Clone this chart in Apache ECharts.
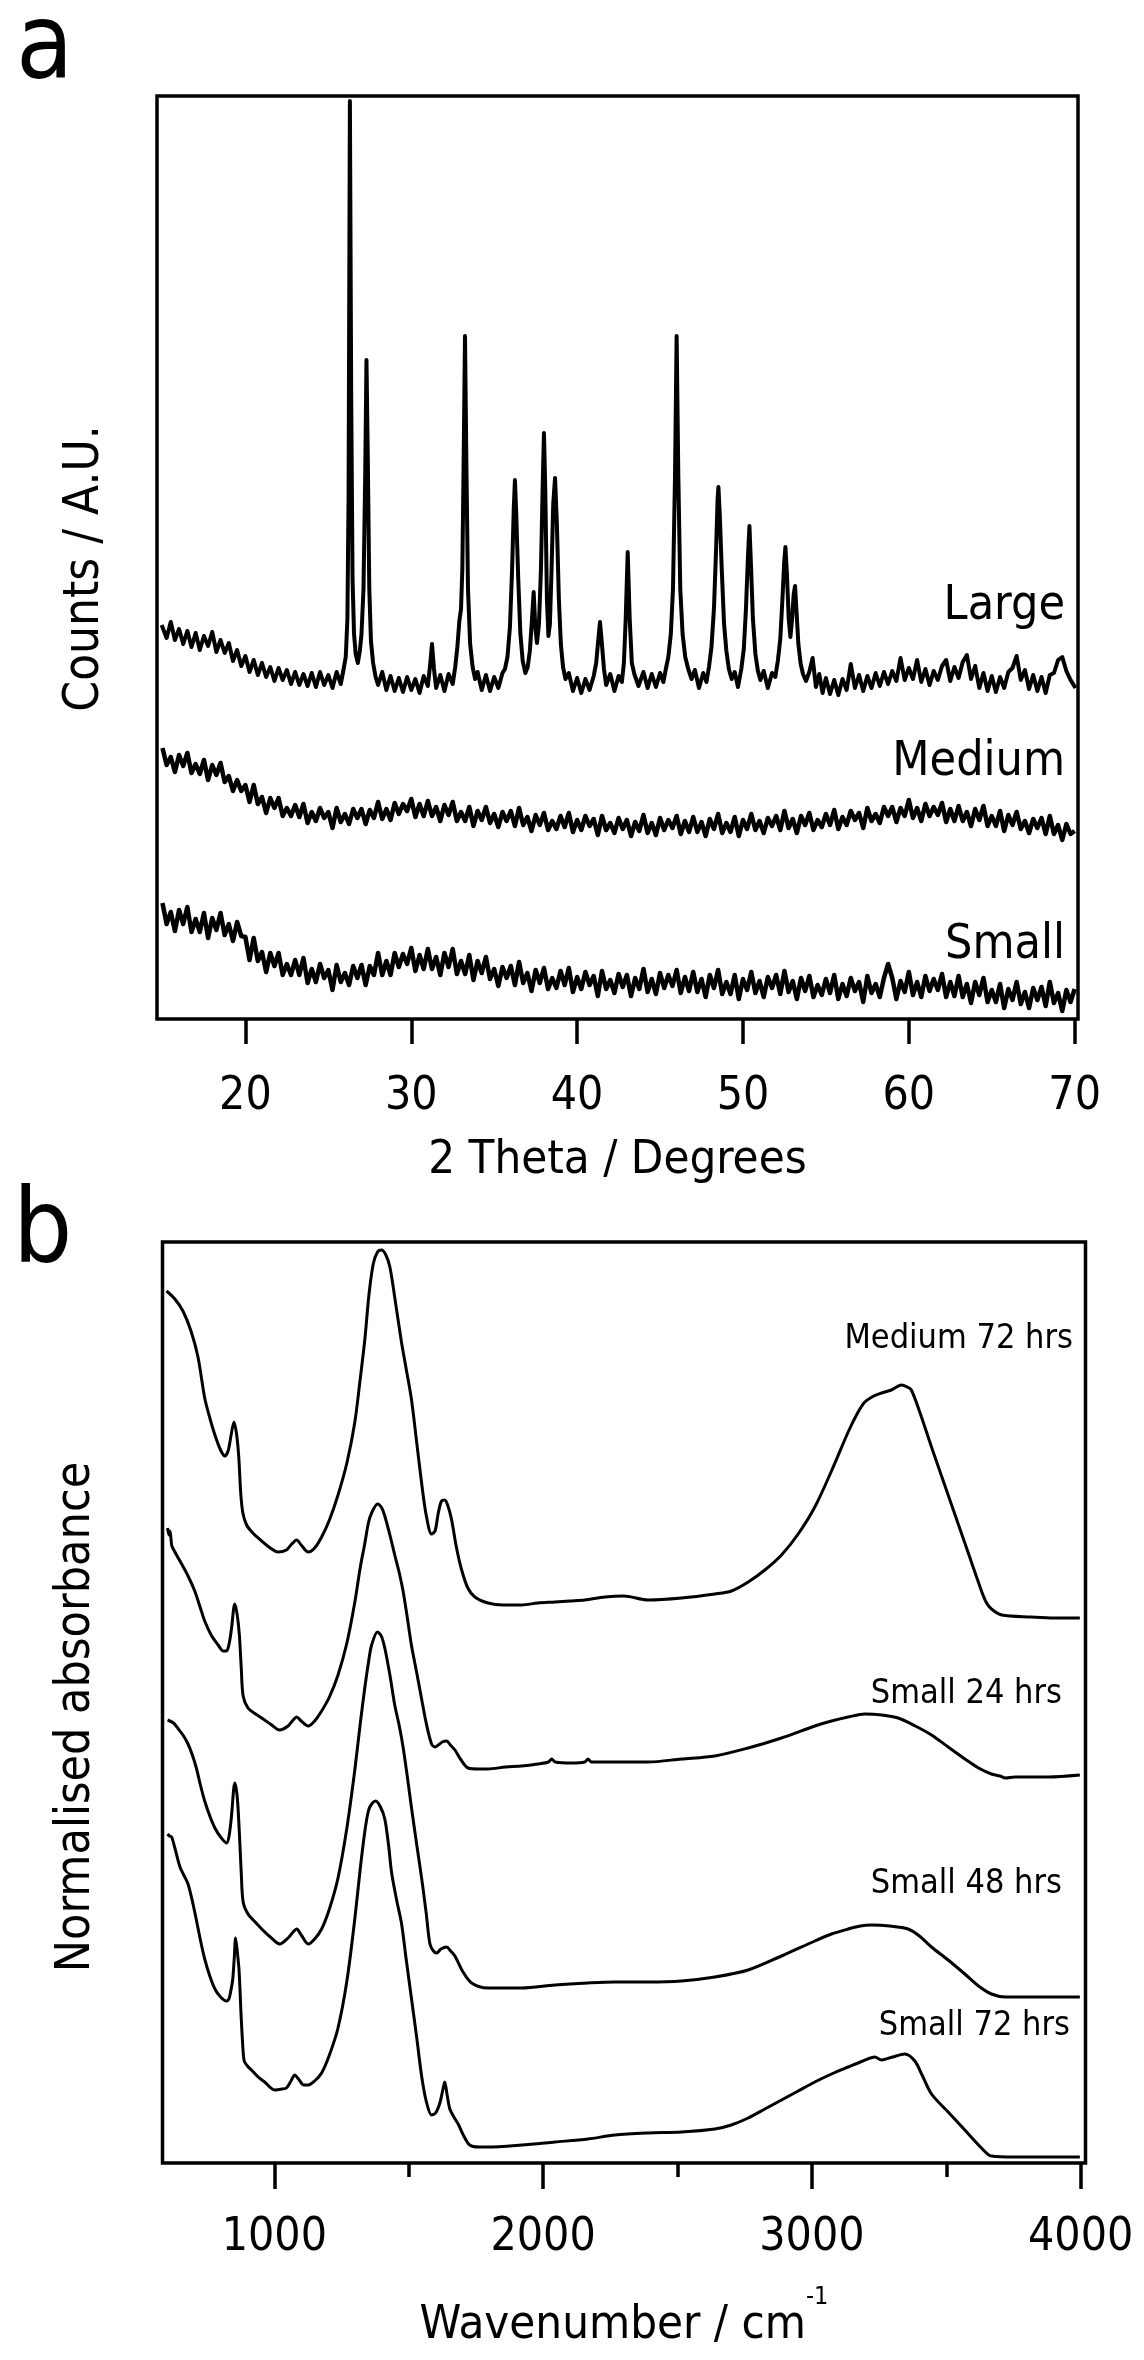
<!DOCTYPE html>
<html>
<head>
<meta charset="utf-8">
<script src="https://cdn.jsdelivr.net/npm/echarts@6/dist/echarts.min.js"></script>
<style>
  html, body { margin: 0; padding: 0; background: #fff; }
  #chart { width: 1144px; height: 2360px; }
</style>
</head>
<body>
<div id="chart"></div>
<script>
// ---- panel a: XRD ----
const xrdTicks = [20, 30, 40, 50, 60, 70];
const xrdNames = ["Large", "Medium", "Small"];

// Large: [2theta, counts]
const xrdLarge = [
  [14.95,394],[15.25,381],[15.5,397],[15.75,379],[16.0,390],[16.25,375],[16.5,388],[16.75,372],
  [17.0,386],[17.25,369],[17.5,383],[17.75,373],[18.0,387],[18.25,367],[18.5,379],[18.75,366],
  [19.0,376],[19.25,358],[19.5,369],[19.75,353],[20.0,363],[20.25,347],[20.5,359],[20.75,344],
  [21.0,356],[21.25,342],[21.5,352],[21.75,338],[22.0,351],[22.25,339],[22.5,349],[22.75,335],
  [23.0,347],[23.25,334],[23.5,345],[23.75,333],[24.0,346],[24.25,332],[24.5,347],[24.75,334],
  [25.0,344],[25.25,331],[25.5,347],[25.75,335],
  [25.9,348],[26.05,362],[26.15,400],[26.22,520],[26.3,918],[26.38,620],[26.46,440],[26.55,385],
  [26.65,365],[26.78,356],[26.9,368],[27.0,385],[27.12,430],[27.22,540],[27.3,659],[27.38,560],
  [27.47,430],[27.57,378],[27.7,356],[27.85,342],
  [28.0,334],[28.25,347],[28.5,329],[28.75,343],[29.0,328],[29.25,341],[29.5,327],[29.75,342],
  [30.0,329],[30.25,340],[30.5,326],[30.75,343],[31.0,333],[31.15,356],[31.25,375],[31.37,350],
  [31.5,331],[31.75,344],[32.0,328],[32.25,345],[32.5,335],
  [32.65,352],[32.78,372],[32.9,398],[33.0,410],[33.08,450],[33.16,560],[33.24,683],[33.32,560],
  [33.42,430],[33.55,375],[33.7,352],[33.85,340],
  [34.0,347],[34.25,329],[34.5,344],[34.75,328],[35.0,342],[35.25,331],[35.5,346],
  [35.65,350],[35.8,362],[35.95,392],[36.08,450],[36.18,510],[36.25,539],[36.33,505],[36.45,440],
  [36.58,385],[36.72,358],[36.88,346],[37.02,352],[37.15,368],[37.28,400],[37.38,427],[37.48,392],
  [37.58,376],[37.7,395],[37.82,450],[37.92,530],[38.0,586],[38.08,530],[38.18,420],[38.27,383],
  [38.36,395],[38.46,450],[38.56,515],[38.67,541],[38.78,495],[38.9,420],[39.02,375],[39.15,352],
  [39.3,340],
  [39.5,346],[39.75,328],[40.0,341],[40.25,326],[40.5,340],[40.75,329],[41.0,343],
  [41.15,356],[41.27,378],[41.38,397],[41.5,374],[41.62,350],
  [41.75,334],[42.0,345],[42.25,328],[42.5,343],[42.7,337],
  [42.82,356],[42.93,400],[43.05,467],[43.17,400],[43.3,356],
  [43.45,345],[43.7,333],[44.0,347],[44.25,331],[44.5,345],[44.75,332],[45.0,346],[45.2,337],
  [45.35,350],[45.5,362],[45.65,385],[45.78,430],[45.9,540],[46.0,683],[46.1,545],[46.22,430],
  [46.36,385],[46.52,362],[46.7,350],[46.9,340],
  [47.1,349],[47.35,331],[47.6,346],[47.8,337],
  [47.95,352],[48.1,372],[48.25,410],[48.38,470],[48.47,520],[48.52,532],[48.6,505],[48.72,450],
  [48.86,395],[49.0,368],[49.15,350],[49.32,340],
  [49.5,347],[49.7,332],
  [49.9,350],[50.05,370],[50.18,410],[50.3,462],[50.39,493],[50.48,455],[50.6,400],[50.75,365],
  [50.9,348],
  [51.05,339],[51.25,348],[51.5,331],[51.75,346],[51.95,342],
  [52.1,358],[52.25,380],[52.38,420],[52.48,455],[52.56,472],[52.65,445],[52.76,400],[52.86,382],
  [52.96,400],[53.06,425],[53.14,433],[53.22,410],[53.34,375],[53.48,355],[53.62,345],[53.8,338],
  [54.0,347],[54.2,361],[54.4,332],[54.6,345],[54.8,326],[55.0,341],[55.25,325],[55.5,339],
  [55.75,324],[56.0,340],[56.25,329],[56.5,355],[56.75,331],[57.0,344],[57.25,328],[57.5,343],
  [57.75,331],[58.0,346],[58.25,333],[58.5,347],[58.75,335],[59.0,348],[59.25,338],[59.5,361],
  [59.75,339],[60.0,351],[60.25,340],[60.5,359],[60.75,337],[61.0,350],[61.25,334],[61.5,348],
  [61.75,339],[62.0,353],[62.25,359],[62.5,338],[62.75,352],[63.0,341],[63.25,357],[63.5,364],
  [63.75,340],[64.0,353],[64.25,331],[64.5,346],[64.75,328],[65.0,343],[65.25,327],[65.5,342],
  [65.75,331],[66.0,347],[66.25,351],[66.5,363],[66.75,339],[67.0,349],[67.25,330],[67.5,344],
  [67.75,328],[68.0,342],[68.25,326],[68.5,344],[68.75,346],[69.0,359],[69.25,362],[69.5,348],
  [69.75,339],[70.05,331]
];

// Medium and Small: counts sampled every 0.25 degrees from 15
const xrdStart = 15;
const xrdStep = 0.25;
const xrdMedium = [
  271, 254, 262, 247, 264, 253, 266, 246, 255, 245, 259, 239, 254, 244, 256, 237,
  243, 228, 239, 228, 234, 217, 234, 215, 222, 206, 221, 211, 221, 203, 211, 203,
  214, 202, 215, 196, 207, 198, 211, 201, 207, 191, 211, 197, 205, 195, 210, 201,
  210, 195, 209, 201, 217, 200, 210, 199, 216, 205, 215, 208, 220, 202, 215, 203,
  218, 203, 212, 198, 214, 204, 217, 198, 207, 198, 212, 193, 208, 199, 212, 196,
  205, 192, 207, 198, 208, 193, 211, 194, 202, 188, 204, 194, 206, 189, 198, 190,
  203, 192, 206, 187, 199, 189, 203, 193, 200, 184, 203, 189, 196, 186, 201, 190,
  199, 183, 197, 188, 204, 186, 196, 184, 201, 189, 199, 191, 203, 185, 198, 187,
  202, 187, 197, 183, 200, 190, 205, 186, 196, 187, 202, 183, 199, 190, 205, 189,
  198, 186, 201, 193, 203, 189, 208, 191, 200, 186, 203, 194, 206, 189, 199, 192,
  205, 194, 209, 190, 202, 194, 208, 199, 206, 191, 211, 198, 205, 196, 212, 203,
  212, 197, 211, 203, 219, 201, 211, 198, 215, 203, 212, 204, 216, 197, 210, 198,
  213, 198, 207, 193, 210, 199, 213, 193, 203, 193, 208, 188, 204, 194, 207, 190,
  198, 186, 200, 191, 201, 185, 203, 185, 194, 179, 195, 185, 188
];
const xrdSmall = [
  116, 95, 107, 88, 109, 95, 112, 87, 100, 87, 106, 81, 101, 89, 106, 84,
  95, 78, 97, 83, 82, 59, 81, 58, 67, 47, 66, 53, 66, 44, 55, 44,
  59, 44, 61, 36, 50, 37, 55, 41, 49, 29, 54, 37, 46, 34, 53, 41,
  54, 34, 53, 44, 66, 44, 58, 44, 66, 52, 65, 55, 71, 48, 64, 50,
  70, 50, 62, 44, 66, 52, 70, 45, 58, 45, 64, 39, 58, 46, 62, 40,
  50, 33, 52, 41, 53, 34, 57, 36, 46, 28, 49, 36, 51, 30, 41, 31,
  48, 34, 51, 27, 42, 30, 47, 34, 43, 23, 48, 30, 39, 26, 45, 32,
  44, 23, 41, 30, 50, 27, 40, 25, 46, 31, 44, 33, 49, 26, 42, 28,
  47, 27, 40, 22, 44, 31, 49, 25, 37, 25, 44, 20, 40, 29, 47, 26,
  38, 22, 42, 31, 44, 25, 48, 27, 38, 20, 41, 28, 43, 22, 34, 24,
  40, 26, 44, 20, 35, 23, 41, 28, 37, 17, 43, 26, 35, 22, 41, 55,
  41, 20, 38, 27, 47, 24, 37, 22, 43, 28, 40, 29, 45, 22, 37, 23,
  43, 22, 35, 16, 37, 24, 41, 17, 29, 17, 35, 11, 30, 19, 37, 15,
  27, 11, 31, 19, 32, 13, 37, 16, 26, 8, 29, 17, 30
];

// ---- panel b: FTIR, [wavenumber, absorbance] ----
const irMajorTicks = [1000, 2000, 3000, 4000];
const irMinorTicks = [1500, 2500, 3500];
const irNames = ["Medium 72 hrs", "Small 24 hrs", "Small 48 hrs", "Small 72 hrs"];

const irMedium72 = [
  [599,872],[630,864],[660,852],[690,832],[716,806],[741,765],[760,745],[779,728],[800,713],
  [816,707],[828,712],[838,726],[850,741],[860,728],[868,705],[875,670],[883,650],[897,638],
  [920,630],[953,622],[985,615],[1014,611],[1045,613],[1065,619],[1083,623],[1100,618],
  [1126,611],[1150,615],[1176,626],[1205,643],[1237,668],[1270,700],[1299,740],[1320,785],
  [1337,824],[1352,868],[1368,899],[1384,911],[1399,913],[1415,908],[1430,896],[1450,862],
  [1473,821],[1490,795],[1510,764],[1530,720],[1548,680],[1565,648],[1585,629],[1598,632],
  [1610,650],[1622,662],[1634,663],[1646,657],[1659,644],[1678,615],[1697,593],[1720,575],
  [1746,566],[1795,560],[1850,558],[1920,558],[1980,560],[2044,561],[2100,562],[2155,563],
  [2230,566],[2300,567],[2391,563],[2515,565],[2639,569],[2701,572],[2763,581],[2825,593],
  [2887,608],[2949,629],[3011,656],[3073,692],[3135,731],[3170,750],[3197,761],[3230,767],
  [3259,770],[3296,773],[3333,778],[3355,776],[3370,773],[3400,752],[3445,716],[3507,668],
  [3569,620],[3631,572],[3650,560],[3668,554],[3706,548],[3817,546],[3900,545],[3997,545]
];
const irSmall24 = [
  [603,635],[608,628],[612,632],[618,618],[624,614],[649,602],[679,587],[704,572],[725,555],
  [741,542],[765,528],[791,518],[810,512],[822,512],[831,518],[840,533],[853,559],[862,548],
  [870,528],[877,495],[884,467],[902,455],[925,450],[953,445],[985,439],[1020,433],[1051,437],
  [1070,443],[1083,446],[1100,442],[1126,437],[1150,442],[1176,452],[1205,466],[1237,488],
  [1270,520],[1299,560],[1320,596],[1337,620],[1350,640],[1362,650],[1384,659],[1400,655],
  [1411,647],[1430,628],[1448,608],[1465,590],[1479,572],[1495,545],[1510,518],[1530,490],
  [1548,464],[1565,440],[1585,419],[1598,416],[1610,418],[1625,421],[1641,422],[1655,418],
  [1672,413],[1695,403],[1721,395],[1760,394],[1795,394],[1860,396],[1920,397],[1980,399],
  [2020,401],[2032,404],[2045,401],[2106,400],[2155,401],[2167,404],[2180,401],[2267,401],
  [2391,401],[2515,404],[2639,407],[2763,415],[2887,425],[3011,437],[3073,442],[3135,446],
  [3197,449],[3260,448],[3321,445],[3385,437],[3445,428],[3507,416],[3569,404],[3620,395],
  [3668,389],[3700,387],[3720,385],[3755,386],[3879,386],[3997,388]
];
const irSmall48 = [
  [603,443],[625,440],[643,434],[660,428],[679,419],[695,408],[710,395],[725,378],[741,362],
  [760,347],[779,335],[800,326],[822,320],[831,326],[840,345],[853,380],[862,366],[870,330],
  [877,290],[884,261],[902,249],[925,242],[953,234],[985,226],[1020,219],[1051,225],[1070,231],
  [1083,234],[1100,228],[1126,219],[1150,224],[1176,234],[1205,254],[1237,285],[1270,335],
  [1299,392],[1320,440],[1337,476],[1350,500],[1362,518],[1384,531],[1398,527],[1411,515],
  [1430,488],[1448,458],[1465,437],[1479,416],[1495,386],[1510,356],[1530,318],[1548,285],
  [1565,250],[1579,219],[1592,212],[1604,210],[1620,214],[1641,216],[1656,212],[1672,207],
  [1700,192],[1734,180],[1795,175],[1860,175],[1920,175],[2044,178],[2167,180],[2267,181],
  [2391,181],[2515,182],[2639,186],[2763,193],[2887,207],[3011,222],[3073,229],[3135,234],
  [3180,237],[3222,238],[3290,237],[3358,234],[3400,227],[3445,216],[3507,203],[3569,189],
  [3620,177],[3668,169],[3720,166],[3755,166],[3997,166]
];
const irSmall72 = [
  [603,329],[610,327],[618,326],[630,315],[649,296],[665,287],[679,279],[695,262],[710,243],
  [725,223],[741,204],[760,187],[779,174],[800,166],[822,162],[831,164],[838,172],[845,183],
  [851,205],[856,225],[862,212],[869,192],[876,150],[882,120],[888,102],[900,97],[915,93],
  [940,86],[964,81],[1001,73],[1030,74],[1045,75],[1062,82],[1076,88],[1090,84],[1110,78],
  [1126,78],[1150,82],[1176,90],[1205,108],[1237,135],[1270,182],[1299,243],[1320,295],
  [1337,332],[1350,352],[1362,359],[1377,362],[1395,356],[1411,344],[1425,318],[1436,291],
  [1455,263],[1473,240],[1490,205],[1510,165],[1530,125],[1548,87],[1565,62],[1585,48],
  [1600,50],[1616,60],[1626,72],[1634,81],[1643,68],[1653,54],[1668,46],[1684,39],[1705,27],
  [1727,18],[1760,16],[1795,16],[1920,18],[2044,21],[2167,24],[2267,28],[2391,30],[2515,31],
  [2639,34],[2700,38],[2763,45],[2825,54],[2887,63],[2949,72],[3011,81],[3073,89],[3135,96],
  [3190,102],[3234,106],[3259,103],[3300,106],[3346,109],[3383,102],[3410,88],[3445,69],
  [3507,51],[3569,33],[3631,15],[3668,7],[3755,6],[3997,6]
];

const FONT = "'DejaVu Sans Condensed', 'DejaVu Sans', sans-serif";

function sampled(values) {
  return values.map((v, i) => [xrdStart + i * xrdStep, v]);
}

function textEl(str, x, y, size, align) {
  return {
    type: "text", x: x, y: y, silent: true,
    style: {
      text: str, fontSize: size, fontFamily: FONT, fill: "#000",
      align: align, verticalAlign: "middle",
      textAlign: align, textVerticalAlign: "middle"
    }
  };
}

function lineSeries(data, axis, width, smooth) {
  return {
    type: "line", data: data, xAxisIndex: axis, yAxisIndex: axis === 0 ? 0 : 1,
    showSymbol: false, smooth: smooth, silent: true,
    lineStyle: { color: "#000", width: width, join: "round" }
  };
}

const chart = echarts.init(document.getElementById("chart"));
const tickStyle = { color: "#000", width: 3.5 };
const noSplit = { show: false };
const plain = v => String(v);

chart.setOption({
  animation: false,
  backgroundColor: "#fff",
  grid: [
    { left: 157, top: 96, width: 921, height: 923, show: true, borderColor: "#000", borderWidth: 3.5 },
    { left: 162.5, top: 1242, width: 923, height: 921, show: true, borderColor: "#000", borderWidth: 3.5 }
  ],
  xAxis: [
    {
      gridIndex: 0, type: "value", position: "bottom", min: 14.67, max: 70.2,
      name: "2 Theta / Degrees", nameLocation: "middle", nameGap: 118,
      nameTextStyle: { fontSize: 47, fontFamily: FONT, color: "#000" },
      axisLine: { show: false },
      axisTick: { show: true, length: 25, customValues: xrdTicks, lineStyle: tickStyle },
      axisLabel: { customValues: xrdTicks, formatter: plain, margin: 55, fontSize: 46, fontFamily: FONT, color: "#000" },
      splitLine: noSplit
    },
    {
      gridIndex: 1, type: "value", position: "bottom", min: 584, max: 4018,
      name: "{n|Wavenumber / cm}{s|-1}", nameLocation: "middle", nameGap: 122,
      nameTextStyle: {
        fontFamily: FONT, color: "#000",
        rich: {
          n: { fontSize: 47, fontFamily: FONT, color: "#000", padding: [17, 0, 0, 0] },
          s: { fontSize: 25, fontFamily: FONT, color: "#000", verticalAlign: "top" }
        }
      },
      axisLine: { show: false },
      axisTick: { show: true, length: 26, customValues: irMajorTicks, lineStyle: tickStyle },
      axisLabel: { customValues: irMajorTicks, formatter: plain, margin: 52, fontSize: 46, fontFamily: FONT, color: "#000" },
      splitLine: noSplit
    },
    {
      gridIndex: 1, type: "value", position: "bottom", min: 584, max: 4018,
      axisLine: { show: false },
      axisTick: { show: true, length: 14, customValues: irMinorTicks, lineStyle: tickStyle },
      axisLabel: { show: false },
      splitLine: noSplit
    }
  ],
  yAxis: [
    {
      gridIndex: 0, type: "value", min: 0, max: 923,
      name: "Counts / A.U.", nameLocation: "middle", nameGap: 47,
      nameTextStyle: { fontSize: 49, fontFamily: FONT, color: "#000", padding: [0, 22, 0, 0] },
      axisLine: { show: false }, axisTick: { show: false }, axisLabel: { show: false },
      splitLine: noSplit
    },
    {
      gridIndex: 1, type: "value", min: 0, max: 921,
      name: "Normalised absorbance", nameLocation: "middle", nameGap: 62,
      nameTextStyle: { fontSize: 48, fontFamily: FONT, color: "#000", padding: [0, 29, 0, 0] },
      axisLine: { show: false }, axisTick: { show: false }, axisLabel: { show: false },
      splitLine: noSplit
    }
  ],
  series: [
    lineSeries(xrdLarge, 0, 4, false),
    lineSeries(sampled(xrdMedium), 0, 4.5, false),
    lineSeries(sampled(xrdSmall), 0, 4.5, false),
    lineSeries(irMedium72, 1, 3, 0.3),
    lineSeries(irSmall24, 1, 3, 0.3),
    lineSeries(irSmall48, 1, 3, 0.3),
    lineSeries(irSmall72, 1, 3, 0.3)
  ],
  graphic: {
    elements: [
      textEl("a", 16, 51, 104, "left"),
      textEl("b", 13, 1235, 104, "left"),
      textEl(xrdNames[0], 1065, 607, 48, "right"),
      textEl(xrdNames[1], 1065, 763, 48, "right"),
      textEl(xrdNames[2], 1065, 946, 48, "right"),
      textEl(irNames[0], 1073, 1339, 34, "right"),
      textEl(irNames[1], 1062, 1694, 34, "right"),
      textEl(irNames[2], 1062, 1884, 34, "right"),
      textEl(irNames[3], 1070, 2026, 34, "right")
    ]
  }
});
</script>
</body>
</html>
